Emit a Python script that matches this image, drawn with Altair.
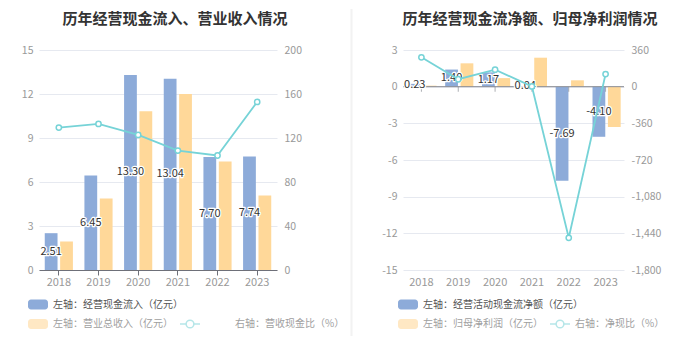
import altair as alt
import pandas as pd

years = ["2018", "2019", "2020", "2021", "2022", "2023"]
cash_inflow = [2.51, 6.45, 13.30, 13.04, 7.70, 7.74]
revenue = [1.95, 4.88, 10.82, 12.00, 7.40, 5.08]
cash_rev_ratio = [129.5, 132.8, 122.8, 108.6, 104.1, 152.8]
net_cash = [0.23, 1.40, 1.17, 0.04, -7.69, -4.10]
net_profit = [0.08, 1.91, 0.70, 2.37, 0.52, -3.30]
net_ratio = [288, 73, 167, 2, -1484, 124]

titles = ["历年经营现金流入、营业收入情况", "历年经营现金流净额、归母净利润情况"]
left_names = ["左轴：经营现金流入（亿元）", "左轴：营业总收入（亿元）", "右轴：营收现金比（%）"]
right_names = ["左轴：经营活动现金流净额（亿元）", "左轴：归母净利润（亿元）", "右轴：净现比（%）"]

left_ticks = [0, 3, 6, 9, 12, 15]
left_rticks = [0, 40, 80, 120, 160, 200]
right_ticks = [3, 0, -3, -6, -9, -12, -15]
right_rticks = [360, 0, -360, -720, -1080, -1440, -1800]

BLUE = "#8DABD9"
YELLOW = "#FFD899"
CYAN = "#76D3D7"
GRID = "#E6E9F0"
AXIS = "#6E7079"
LABEL = "#999999"
FONT = "Noto Sans CJK SC"

H = 220


def one(v):
    return pd.DataFrame({"t": [v]})


def panel(width, a_vals, b_vals, r_vals, names, ydom, yticks, rdom, rticks,
          title, title_x, leg, zero_line, sep=False, anchor_left=None):
    sa, sb = "A", "B"
    bars_df = pd.DataFrame({"year": years * 2, "series": [sa] * 6 + [sb] * 6,
                            "value": a_vals + b_vals})
    lab_df = pd.DataFrame({"year": years, "series": [sa] * 6, "value": a_vals})
    line_df = pd.DataFrame({"year": years, "ratio": r_vals})

    xaxis = alt.Axis(title=None, labelAngle=0, labelColor=LABEL, labelFontSize=11,
                     domain=not zero_line, domainColor=AXIS, ticks=not zero_line,
                     tickColor=AXIS, tickSize=5, labelPadding=1 if not zero_line else 6,
                     grid=False)
    x = alt.X("year:N", sort=years, scale=alt.Scale(paddingInner=0.29, paddingOuter=0.145),
              axis=xaxis)
    xo = alt.XOffset("series:N", scale=alt.Scale(domain=[sa, sb], paddingInner=0.17))
    yl_scale = alt.Scale(domain=ydom, nice=False, zero=False)
    yl_axis = alt.Axis(title=None, values=yticks, labelColor=LABEL, labelFontSize=10.5,
                       domain=False, ticks=False, gridColor=GRID, labelPadding=6,
                       labelExpr="replace(format(datum.value, ','), '\u2212', '-')")

    bars = alt.Chart(bars_df).mark_bar().encode(
        x=x, xOffset=xo,
        y=alt.Y("value:Q", scale=yl_scale, axis=yl_axis),
        color=alt.Color("series:N", scale=alt.Scale(domain=[sa, sb], range=[BLUE, YELLOW]),
                        legend=None),
    )
    lab_base = alt.Chart(lab_df).transform_calculate(
        mid="datum.value / 2",
        txt="replace(format(datum.value, '.2f'), '\u2212', '-')",
    ).encode(x=x, xOffset=xo, y=alt.Y("mid:Q", scale=yl_scale, axis=yl_axis),
             text="txt:N")
    halo = lab_base.mark_text(fontSize=11, stroke="white", strokeWidth=2.5, color="white",
                              strokeJoin="round")
    labs = lab_base.mark_text(fontSize=11, color="#333333")

    left_layers = [bars]
    if zero_line:
        zr = alt.Chart(one(0)).mark_rule(color="#8A8D94", strokeWidth=1).encode(
            x=alt.value(0), x2=alt.value(width),
            y=alt.Y("t:Q", scale=yl_scale, axis=yl_axis))
        zt = alt.Chart(pd.DataFrame({"year": years, "z": [0] * 6})).mark_tick(
            orient="vertical", color="#8A8D94", size=5, thickness=1, yOffset=2.5).encode(
            x=x, y=alt.Y("z:Q", scale=yl_scale, axis=yl_axis))
        left_layers += [zr, zt]
    left_layers += [halo, labs]
    lgroup = alt.layer(*left_layers)

    yr_scale = alt.Scale(domain=rdom, nice=False, zero=False)
    yr_axis = alt.Axis(title=None, orient="right", values=rticks, labelColor=LABEL,
                       labelFontSize=10.5, domain=False, ticks=False, grid=False,
                       labelPadding=7,
                       labelExpr="replace(format(datum.value, ','), '\u2212', '-')")
    line = alt.Chart(line_df).mark_line(color=CYAN, strokeWidth=1.8).encode(
        x=x, y=alt.Y("ratio:Q", scale=yr_scale, axis=yr_axis))
    pts = alt.Chart(line_df).mark_point(shape="circle", filled=True, fill="white",
                                        stroke=CYAN, strokeWidth=1.5, size=28, opacity=1).encode(
        x=x, y=alt.Y("ratio:Q", scale=yr_scale, axis=yr_axis))
    rgroup = alt.layer(line, pts)

    deco = []
    deco.append(alt.Chart(one(title)).mark_text(fontSize=15, fontWeight="bold",
                                                color="#333333", baseline="middle",
                                                align="center").encode(
        x=alt.value(title_x), y=alt.value(-31.5), text="t:N"))
    (sw_x0, sw_x1, tx, lx0, lx1, rtx) = leg
    y1, y2 = 254.5, 274
    deco.append(alt.Chart(one(0)).mark_rect(color=BLUE, cornerRadius=3).encode(
        x=alt.value(sw_x0), x2=alt.value(sw_x1), y=alt.value(y1 - 5), y2=alt.value(y1 + 5)))
    deco.append(alt.Chart(one(0)).mark_rect(color="#FFE8C4", cornerRadius=3).encode(
        x=alt.value(sw_x0), x2=alt.value(sw_x1), y=alt.value(y2 - 5), y2=alt.value(y2 + 5)))
    deco.append(alt.Chart(one(names[0])).mark_text(fontSize=10, color="#555555",
                                                   align="left", baseline="middle").encode(
        x=alt.value(tx), y=alt.value(y1), text="t:N"))
    deco.append(alt.Chart(one(names[1])).mark_text(fontSize=10, color="#A0A0A0",
                                                   align="left", baseline="middle").encode(
        x=alt.value(tx), y=alt.value(y2), text="t:N"))
    deco.append(alt.Chart(one(0)).mark_rule(color="#B5E6E8", strokeWidth=1.5).encode(
        x=alt.value(lx0), x2=alt.value(lx1), y=alt.value(y2)))
    deco.append(alt.Chart(one(0)).mark_point(shape="circle", filled=True, fill="white",
                                             stroke="#B5E6E8", strokeWidth=1.5, size=60,
                                             opacity=1).encode(
        x=alt.value((lx0 + lx1) / 2), y=alt.value(y2)))
    deco.append(alt.Chart(one(names[2])).mark_text(fontSize=10, color="#A0A0A0",
                                                   align="left", baseline="middle").encode(
        x=alt.value(rtx), y=alt.value(y2), text="t:N"))
    if sep:
        deco.append(alt.Chart(one(0)).mark_rule(color="#F2F2F2", strokeWidth=2).encode(
            x=alt.value(312.5), y=alt.value(-41), y2=alt.value(286)))
    if anchor_left is not None:
        deco.append(alt.Chart(one(0)).mark_rule(color="white", opacity=0, strokeWidth=1).encode(
            x=alt.value(anchor_left), y=alt.value(-41), y2=alt.value(-40)))

    return alt.layer(lgroup, rgroup, *deco).resolve_scale(y="independent").properties(
        width=width, height=H)


left = panel(238, cash_inflow, revenue, cash_rev_ratio, left_names, [0, 15], left_ticks,
             [0, 200], left_rticks, titles[0], 136, (-11, 9, 14, 141, 161, 196),
             zero_line=False, sep=True, anchor_left=-31)
right = panel(221, net_cash, net_profit, net_ratio, right_names, [-15, 3], right_ticks,
              [-1800, 360], right_rticks, titles[1], 127, (-5, 15, 20, 147, 167, 172),
              zero_line=True)

chart = alt.hconcat(left, right, spacing=126, bounds="flush").properties(
    padding={"left": 0, "top": 0, "right": 5, "bottom": 5}
).configure(font=FONT).configure_view(stroke=None)

chart.save("out.html", embed_options={"renderer": "svg", "actions": False})
